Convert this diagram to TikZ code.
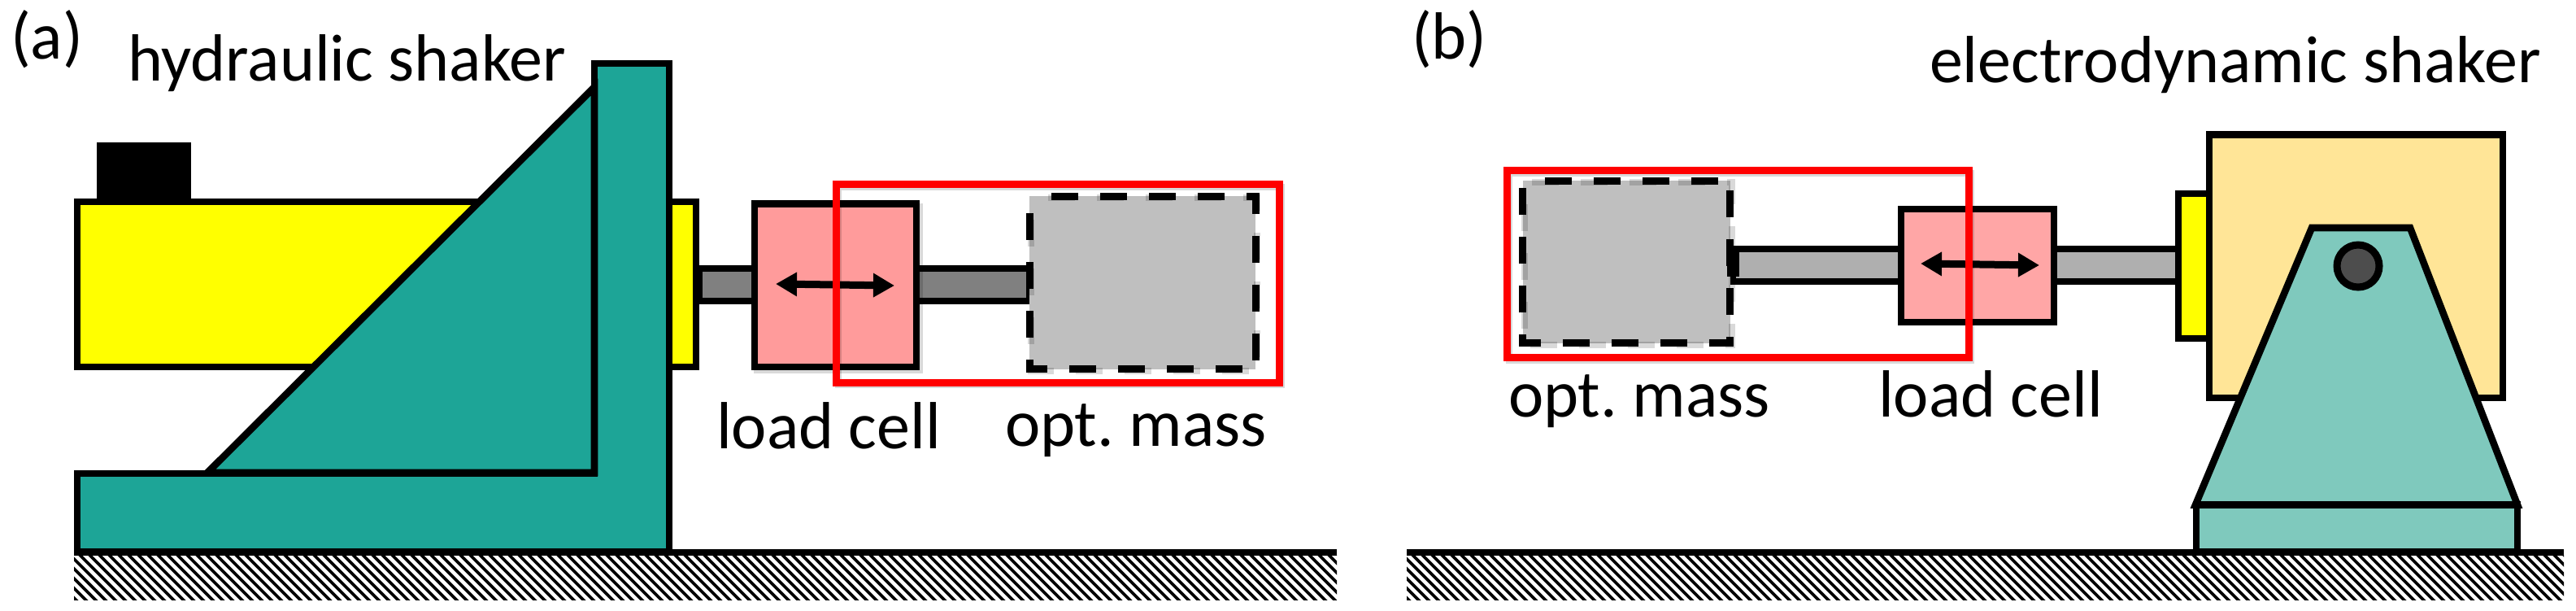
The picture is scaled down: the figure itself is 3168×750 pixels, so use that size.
\documentclass[tikz,border=0pt]{standalone}
\usepackage{fontspec}
\setmainfont{Carlito}
\usetikzlibrary{arrows.meta}
\definecolor{tealA}{HTML}{1DA597}
\definecolor{tealB}{HTML}{7FC9BD}
\definecolor{tanB}{HTML}{FFE597}
\definecolor{pinkA}{HTML}{FF9B9B}
\definecolor{pinkB}{HTML}{FFA6A6}
\definecolor{rodA}{HTML}{808080}
\definecolor{rodB}{HTML}{AFAFAF}
\definecolor{massC}{HTML}{BFBFBF}
\definecolor{knob}{HTML}{4D4D4D}
\definecolor{pureyellow}{HTML}{FFFF00}
\definecolor{purered}{HTML}{FF0000}
\tikzset{
  part/.style={draw=black,line width=8.6pt,miter limit=10},
  massbox/.style={draw=black,line width=9pt,dash pattern=on 33pt off 27pt,dash phase=33pt},
  redbox/.style={draw=purered,line width=9pt},
  softshadow/.style={draw=black,opacity=0.15,line width=8pt},
  label/.style={inner sep=0pt,outer sep=0pt,anchor=base west,font=\fontsize{82}{82}\selectfont},
  force/.style={line width=9pt,{Triangle[length=26pt,width=28pt]}-{Triangle[length=26pt,width=28pt]}},
  hatchline/.style={line width=3.6pt,black},
}
\newcommand{\groundstrip}[2]{%
  \begin{scope}
    \clip (#1,682) rectangle (#2,737);
    \pgfmathsetmacro{\hstart}{#1-60}
    \pgfmathsetmacro{\hnext}{#1-48}
    \foreach \hx in {\hstart,\hnext,...,#2}
      \draw[hatchline] (\hx,675) -- ++(70,70);
  \end{scope}
  \fill[black] (#1,674.5) rectangle (#2,682.5);
}
\begin{document}
\frenchspacing
\begin{tikzpicture}[x=1pt,y=-1pt]
\useasboundingbox (0,0) rectangle (3168,750);
\fill[white] (0,0) rectangle (3168,750);

% ---------- panel (a)
\groundstrip{91}{1644}
\fill[black] (119,175) rectangle (235,246);
\draw[part,fill=pureyellow] (95,248) rectangle (856,451);
\draw[part,fill=rodA] (860,330) rectangle (928,370);
\draw[part,fill=tealA,line join=miter] (731,78) -- (823,78) -- (823,678) -- (95,678) -- (95,582) -- (731,582) -- cycle;
\draw[part,fill=tealA] (731,107) -- (255,581) -- (731,581) -- cycle;
\draw[part,fill=rodA] (1127,330) -- (1266,330) -- (1266,370) -- (1127,370) -- cycle;
\draw[softshadow] (931,254) rectangle (1131,455);
\draw[part,fill=pinkA] (928,250.5) rectangle (1127,451);
\draw[force] (954,349) -- (1100,351);
\fill[massC] (1266,241) rectangle (1544,453.5);
\draw[softshadow,dash pattern=on 33pt off 27pt,dash phase=33pt] (1268,243) rectangle (1546,455.5);
\draw[massbox] (1266,241) -- (1544,241) -- (1544,453.5) -- (1266,453.5) -- cycle;
\draw[softshadow] (1031,230) rectangle (1576,473);
\draw[redbox] (1028,226.5) rectangle (1573,470);
\node[label] (hyd) at (157,99.5) {hydraulic shaker};
\node[label] (lca) at (881,551) {load cell};
\node[label] (oma) at (1236,548) {opt. mass};
\node[label] (pa) at (13,72) {(a)};

% ---------- panel (b)
\groundstrip{1730}{3153}
\draw[part,fill=tanB] (2717,165.5) rectangle (3078,489);
\draw[part,fill=pureyellow] (2679,238) rectangle (2717,416);
\draw[part,fill=rodB] (2526,306) rectangle (2679,346);
\draw[part,fill=tealB] (2843,280) -- (2964,280) -- (3096,620.5) -- (2700,620.5) -- cycle;
\draw[part,fill=tealB] (2701,620.5) rectangle (3096,678);
\draw[line width=9pt,fill=knob] (2900,327) circle (26pt);
\draw[part,fill=rodB] (2131,306) rectangle (2338,346);
\draw[part,fill=pinkB] (2338,257) rectangle (2526,396);
\draw[force] (2362,324) -- (2508,326);
\fill[massC] (1872.5,222) rectangle (2127.5,421.7);
\draw[softshadow,dash pattern=on 33pt off 27pt,dash phase=33pt] (1874.5,224) rectangle (2129.5,423.7);
\draw[massbox] (1872.5,222) -- (2127.5,222) -- (2127.5,421.7) -- (1872.5,421.7) -- cycle;
\fill[black] (2123.5,306) rectangle (2139,340);
\draw[softshadow] (1856,213) rectangle (2424,443);
\draw[redbox] (1853,209.5) rectangle (2421,439);
\node[label] (edy) at (2373,101) {electrodynamic shaker};
\node[label] (lcb) at (2310,512) {load cell};
\node[label] (omb) at (1855,512) {opt. mass};
\node[label] (pb) at (1736,72) {(b)};
\end{tikzpicture}
\end{document}
